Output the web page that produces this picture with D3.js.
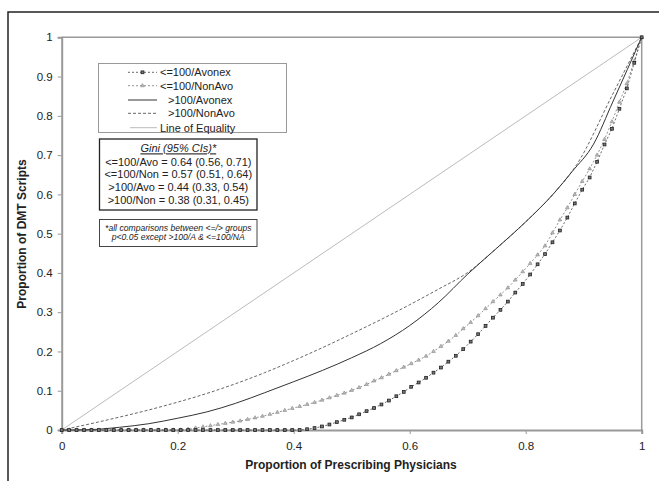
<!DOCTYPE html>
<html><head><meta charset="utf-8">
<script src="https://cdn.jsdelivr.net/npm/d3@7"></script>
<style>body{margin:0;background:#fff;} svg{display:block;font-family:"Liberation Sans",Arial,sans-serif;}</style>
</head><body>
<svg id="c" width="659" height="481"></svg>
<script>
// ---- data ----
const markerSteps = 78; // marker series sampled at i/78
const le100Avonex = [0,0,0,0,0,0,0,0,0,0,0,0,0,0,0,0,0,0,0,0,0,0,0,0,0,0,0,0,0,0,0,0,0,
  0.002,0.005,0.009,0.014,0.020,0.026,0.032,0.040,0.048,0.056,0.065,0.075,0.086,0.097,0.110,0.121,0.133,
  0.146,0.159,0.174,0.189,0.206,0.225,0.244,0.265,0.286,0.306,0.327,0.350,0.372,0.396,0.422,0.448,0.478,
  0.508,0.541,0.577,0.612,0.643,0.683,0.727,0.767,0.818,0.870,0.935,1];
const le100NonAvo = [0,0,0,0,0,0,0,0,0,0,0,0,0,0,0,0,0,
  0.002,0.005,0.008,0.011,0.014,0.017,0.020,0.023,0.027,0.031,0.035,0.040,0.045,0.050,0.055,0.060,0.065,
  0.070,0.076,0.082,0.088,0.094,0.101,0.108,0.116,0.125,0.133,0.142,0.151,0.160,0.169,0.178,0.188,0.200,
  0.213,0.226,0.241,0.258,0.274,0.291,0.309,0.327,0.344,0.362,0.382,0.403,0.424,0.446,0.469,0.502,0.535,
  0.566,0.600,0.633,0.665,0.700,0.740,0.785,0.835,0.882,0.940,1];
const gt100AvonexX = [0,0.05,0.1,0.15,0.2,0.25,0.3,0.35,0.4,0.45,0.5,0.55,0.6,0.65,0.7,0.75,0.8,0.85,0.88,0.917,0.95,1];
const gt100AvonexY = [0,0.001,0.007,0.016,0.030,0.046,0.068,0.095,0.123,0.152,0.184,0.220,0.266,0.325,0.397,0.463,0.530,0.605,0.658,0.728,0.835,1];
const gt100NonAvoX = [0,0.05,0.1,0.15,0.2,0.25,0.3,0.35,0.4,0.45,0.5,0.55,0.6,0.65,0.7,0.75,0.8,0.85,0.888,0.95,1];
const gt100NonAvoY = [0,0.016,0.033,0.051,0.071,0.093,0.118,0.146,0.177,0.210,0.245,0.281,0.319,0.359,0.401,0.463,0.530,0.605,0.676,0.855,1];
const equalityX = [0,1];
const equalityY = [0,1];
const xTicks = [0,0.2,0.4,0.6,0.8,1];
const yTicks = [0,0.1,0.2,0.3,0.4,0.5,0.6,0.7,0.8,0.9,1];
const legendLabels = ["<=100/Avonex","<=100/NonAvo",">100/Avonex",">100/NonAvo","Line of Equality"];
const giniTitle = "Gini (95% CIs)*";
const giniLines = ["<=100/Avo = 0.64 (0.56, 0.71)","<=100/Non = 0.57 (0.51, 0.64)",">100/Avo = 0.44 (0.33, 0.54)",">100/Non = 0.38 (0.31, 0.45)"];
const noteLines = ["*all comparisons between <=/> groups","p<0.05 except >100/A & <=100/NA"];
const xTitle = "Proportion of Prescribing Physicians";
const yTitle = "Proportion of DMT Scripts";

// ---- drawing ----
const svg = d3.select("#c");
const x = d3.scaleLinear().domain([0,1]).range([61.7,641.7]);
const y = d3.scaleLinear().domain([0,1]).range([430,37.3]);

// outer frame (cropped)
svg.append("path").attr("d","M8,490V12H670").attr("fill","none").attr("stroke","#222").attr("stroke-width",1.5);

// plot border
svg.append("path").attr("d",`M${x(0)},${y(1)}H${x(1)}V${y(0)}`).attr("fill","none").attr("stroke","#999").attr("stroke-width",1.5);

const xAxis = svg.append("g").attr("transform",`translate(0,${y(0)})`)
  .call(d3.axisBottom(x).tickValues(xTicks).tickFormat(d3.format("")).tickSize(4).tickPadding(5));
const yAxis = svg.append("g").attr("transform",`translate(${x(0)},0)`)
  .call(d3.axisLeft(y).tickValues(yTicks).tickFormat(d3.format("")).tickSize(4).tickPadding(5));
[xAxis,yAxis].forEach(a=>{
  a.select(".domain").attr("stroke","#999").attr("stroke-width",2);
  a.selectAll(".tick line").attr("stroke","#999");
  a.selectAll(".tick text").attr("fill","#222").style("font-size","11.5px").style("font-family","Liberation Sans, Arial, sans-serif");
});
xAxis.selectAll(".tick text").attr("dy","0.95em");

svg.append("text").attr("x",351).attr("y",469).attr("text-anchor","middle")
  .style("font-weight","bold").style("font-size","12px").attr("fill","#222").text(xTitle);
svg.append("text").attr("transform","translate(26,234) rotate(-90)").attr("text-anchor","middle")
  .style("font-weight","bold").style("font-size","12px").attr("fill","#222").text(yTitle);

const lineLin = d3.line().x(d=>x(d[0])).y(d=>y(d[1]));
const lineSmooth = d3.line().x(d=>x(d[0])).y(d=>y(d[1])).curve(d3.curveMonotoneX);
const zip = (xs,ys)=>xs.map((v,i)=>[v,ys[i]]);
const mk = arr=>arr.map((v,i)=>[i/markerSteps,v]);

// equality
svg.append("path").datum(zip(equalityX,equalityY)).attr("d",lineLin).attr("fill","none").attr("stroke","#bbb").attr("stroke-width",1);
// >100/NonAvo dashed
svg.append("path").datum(zip(gt100NonAvoX,gt100NonAvoY)).attr("d",lineSmooth).attr("fill","none")
  .attr("stroke","#666").attr("stroke-width",1).attr("stroke-dasharray","3,2");
// >100/Avonex solid
svg.append("path").datum(zip(gt100AvonexX,gt100AvonexY)).attr("d",lineSmooth).attr("fill","none")
  .attr("stroke","#333").attr("stroke-width",1);
// <=100/NonAvo
const nonAvo = mk(le100NonAvo);
svg.append("path").datum(nonAvo).attr("d",lineLin).attr("fill","none")
  .attr("stroke","#777").attr("stroke-width",0.8).attr("stroke-dasharray","2,2");
const tri = d3.symbol().type(d3.symbolTriangle).size(6);
svg.append("g").selectAll("path").data(nonAvo).join("path").attr("d",tri)
  .attr("transform",d=>`translate(${x(d[0])},${y(d[1])})`).attr("fill","#bbb").attr("stroke","#888").attr("stroke-width",0.6);
// <=100/Avonex
const avo = mk(le100Avonex);
svg.append("path").datum(avo).attr("d",lineLin).attr("fill","none")
  .attr("stroke","#444").attr("stroke-width",0.8).attr("stroke-dasharray","2,2");
svg.append("g").selectAll("rect").data(avo).join("rect")
  .attr("x",d=>x(d[0])-1.4).attr("y",d=>y(d[1])-1.4).attr("width",2.8).attr("height",2.8)
  .attr("fill","#777").attr("stroke","#222").attr("stroke-width",0.8);

// legend
svg.append("rect").attr("x",98.5).attr("y",63.5).attr("width",188).attr("height",69).attr("fill","#fff").attr("stroke","#999");
const ly = [72.3,85.7,100,113.3,127.7];
const lx = [160,160,168,168,160];
const lg = svg.append("g").style("font-size","11px").attr("fill","#222");
legendLabels.forEach((t,i)=>{
  lg.append("text").attr("x",lx[i]).attr("y",ly[i]).attr("dy","0.35em").text(t);
});
// legend samples
lg.append("line").attr("x1",128).attr("x2",157).attr("y1",ly[0]).attr("y2",ly[0]).attr("stroke","#444").attr("stroke-width",0.8).attr("stroke-dasharray","2,2");
lg.append("rect").attr("x",141.1).attr("y",ly[0]-1.4).attr("width",2.8).attr("height",2.8).attr("fill","#777").attr("stroke","#222").attr("stroke-width",0.8);
lg.append("line").attr("x1",128).attr("x2",157).attr("y1",ly[1]).attr("y2",ly[1]).attr("stroke","#777").attr("stroke-width",0.8).attr("stroke-dasharray","2,2");
lg.append("path").attr("d",tri).attr("transform",`translate(142.5,${ly[1]})`).attr("fill","#bbb").attr("stroke","#888").attr("stroke-width",0.6);
lg.append("line").attr("x1",128).attr("x2",157).attr("y1",ly[2]).attr("y2",ly[2]).attr("stroke","#333").attr("stroke-width",1);
lg.append("line").attr("x1",128).attr("x2",157).attr("y1",ly[3]).attr("y2",ly[3]).attr("stroke","#666").attr("stroke-width",1).attr("stroke-dasharray","3,2");
lg.append("line").attr("x1",130).attr("x2",157).attr("y1",ly[4]).attr("y2",ly[4]).attr("stroke","#bbb").attr("stroke-width",1);

// gini box
svg.append("rect").attr("x",99.5).attr("y",139).attr("width",157.5).attr("height",71).attr("fill","#fff").attr("stroke","#222").attr("stroke-width",1.3);
const gcx = 178.3;
svg.append("text").attr("x",gcx).attr("y",148.5).attr("dy","0.35em").attr("text-anchor","middle")
  .style("font-size","11px").style("font-style","italic").style("text-decoration","underline").attr("fill","#222").text(giniTitle);
giniLines.forEach((t,i)=>{
  svg.append("text").attr("x",gcx).attr("y",[161.7,174.3,187.3,200][i]).attr("dy","0.35em").attr("text-anchor","middle")
    .style("font-size","11px").attr("fill","#222").text(t);
});
// note box
svg.append("rect").attr("x",99.5).attr("y",219.5).attr("width",157.5).attr("height",27).attr("fill","#fff").attr("stroke","#444").attr("stroke-width",1);
noteLines.forEach((t,i)=>{
  svg.append("text").attr("x",gcx).attr("y",[227.5,236.5][i]).attr("dy","0.35em").attr("text-anchor","middle")
    .style("font-size","8.6px").style("font-style","italic").attr("fill","#222").text(t);
});
</script>
</body></html>
